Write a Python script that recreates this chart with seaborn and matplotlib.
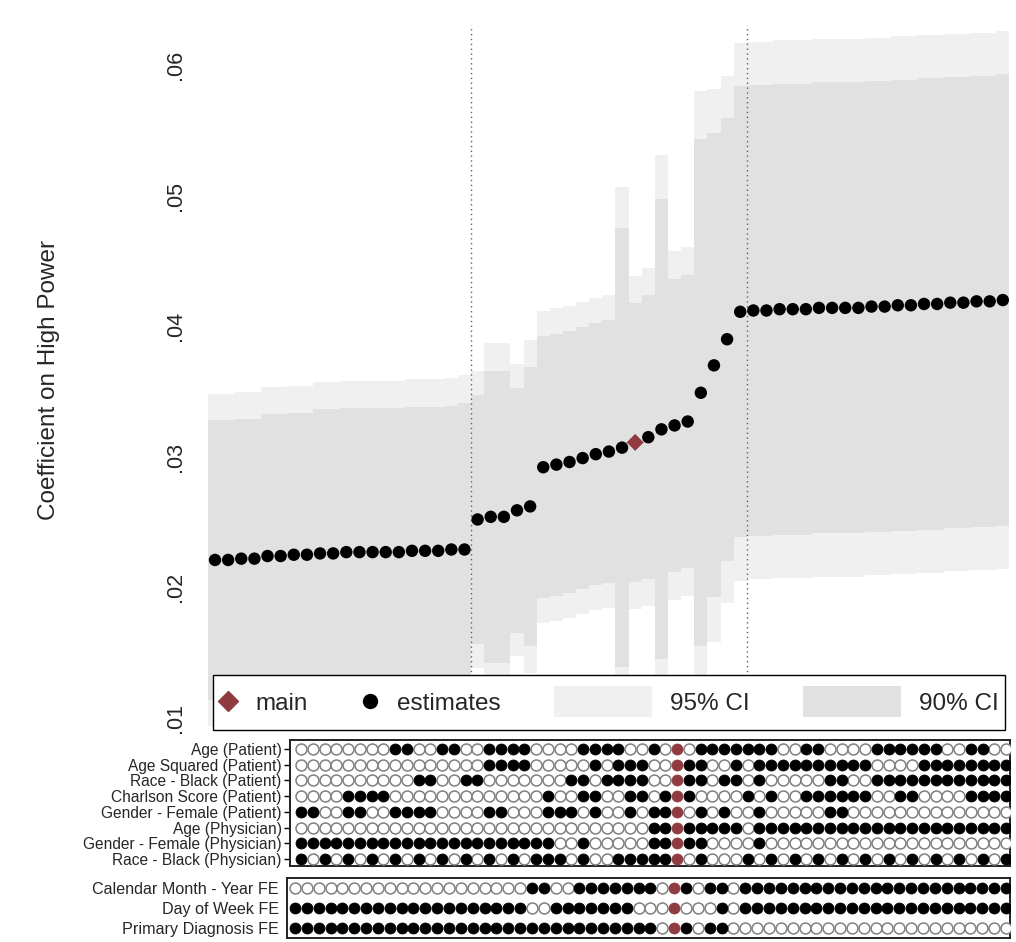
import numpy as np
import pandas as pd
import matplotlib
matplotlib.use("Agg")
import matplotlib.pyplot as plt
import seaborn as sns
from matplotlib.lines import Line2D
from matplotlib.patches import Patch, Rectangle
from matplotlib.legend_handler import HandlerPatch, HandlerLine2D

sns.set_theme(style="white")
plt.rcParams["font.family"] = ["Liberation Sans", "DejaVu Sans"]

# ---- specification curve data (sorted by point estimate) ----
estimates = [
    0.0221, 0.0221, 0.0222, 0.0222, 0.0224, 0.0224, 0.0225, 0.0225, 0.0226, 0.0226,
    0.0227, 0.0227, 0.0227, 0.0227, 0.0227, 0.0228, 0.0228, 0.0228, 0.0229, 0.0229,
    0.0252, 0.0254, 0.0254, 0.0259, 0.0262, 0.0292, 0.0294, 0.0296, 0.0299, 0.0302,
    0.0304, 0.0307, 0.0311, 0.0315, 0.0321, 0.0324, 0.0327, 0.0349, 0.0370, 0.0390,
    0.0411,
    0.0412, 0.0412, 0.0413, 0.0413, 0.0413, 0.0414, 0.0414, 0.0414, 0.0414, 0.0415,
    0.0415, 0.0416, 0.0416, 0.0417, 0.0417, 0.0418, 0.0418, 0.0419, 0.0419, 0.0420,
]
std_errors = [
    0.0065, 0.0065, 0.0065, 0.0065, 0.0066, 0.0066, 0.0066, 0.0066, 0.0067, 0.0067,
    0.0067, 0.0067, 0.0067, 0.0067, 0.0067, 0.0067, 0.0067, 0.0067, 0.0067, 0.0068,
    0.0058, 0.0068, 0.0068, 0.0057, 0.0065, 0.0061, 0.0061, 0.0061, 0.0061, 0.0061,
    0.0061, 0.0102, 0.0065, 0.0066, 0.0107, 0.0068, 0.0068, 0.0118, 0.0108, 0.0103,
    0.0105,
    0.0105, 0.0105, 0.0105, 0.0105, 0.0105, 0.0105, 0.0105, 0.0105, 0.0105, 0.0105,
    0.0105, 0.0105, 0.0105, 0.0105, 0.0105, 0.0105, 0.0105, 0.0105, 0.0105, 0.0105,
]
main_spec = 32
group_breaks = [19.5, 40.5]

y_ticks = [0.01, 0.02, 0.03, 0.04, 0.05, 0.06]
y_tick_labels = [".01", ".02", ".03", ".04", ".05", ".06"]

control_labels = [
    "Age (Patient)",
    "Age Squared (Patient)",
    "Race - Black (Patient)",
    "Charlson Score (Patient)",
    "Gender - Female (Patient)",
    "Age (Physician)",
    "Gender - Female (Physician)",
    "Race - Black (Physician)",
]
control_flags = [
    "0000000011 0011001111 0000111100 1010111111 1001100001 1111100110 0",
    "0000000000 0000001111 0000010111 0011100101 1111111110 0001111111 1",
    "0000000000 1100110000 0001101111 0011101101 0000011001 1111111111 1",
    "0000111100 0000000000 0100110011 0111000010 1001111110 0110000111 1",
    "1100110011 1100001100 0111010010 1110101001 0000011000 0000000000 0",
    "0000000000 0000000000 0000000000 1111111101 1111111111 1111111111 1",
    "1111111111 1111111111 1100100000 1111100001 0000000000 0000000000 0",
    "1010101010 1010101010 1110100111 1110100010 1010101010 1010101010 1",
]
fe_labels = [
    "Calendar Month - Year FE",
    "Day of Week FE",
    "Primary Diagnosis FE",
]
fe_flags = [
    "0000000000 0000000000 1100111111 1011011011 1111111111 1111111111 1",
    "1111111111 1111111111 0011111110 0010001011 1111111111 1111111111 1",
    "1111111111 1111111111 1111111111 1011011000 0000000000 0000000000 0",
]

# ---- colours ----
band95 = "#f0f0f0"
band90 = "#e1e1e1"
main_red = "#8f3b40"
hollow_edge = "#808080"


class WideSwatch(HandlerPatch):
    """Legend swatch wider than the marker handles, centred on the text."""

    def __init__(self, width_em, height_em, **kw):
        super().__init__(**kw)
        self.width_em = width_em
        self.height_em = height_em

    def legend_artist(self, legend, orig_handle, fontsize, handlebox):
        handlebox.width = self.width_em * fontsize
        return super().legend_artist(legend, orig_handle, fontsize, handlebox)

    def create_artists(self, legend, orig_handle, xdescent, ydescent,
                       width, height, fontsize, trans):
        h = self.height_em * fontsize
        y0 = 0.35 * fontsize - h / 2
        p = Rectangle((-xdescent, y0), width, h,
                      facecolor=orig_handle.get_facecolor(), edgecolor="none")
        p.set_transform(trans)
        return [p]


class CentredMarker(HandlerLine2D):
    """Single legend marker placed at the middle of the label's cap height."""

    def create_artists(self, legend, orig_handle, xdescent, ydescent,
                       width, height, fontsize, trans):
        artists = super().create_artists(legend, orig_handle, xdescent,
                                         ydescent, width, height, fontsize,
                                         trans)
        for a in artists:
            a.set_ydata(np.full(len(a.get_xdata()), 0.35 * fontsize))
        return artists


def flag_frame(labels, flags):
    rows = []
    for r, (lab, fl) in enumerate(zip(labels, flags)):
        bits = fl.replace(" ", "")
        for c, b in enumerate(bits):
            kind = "main" if c == main_spec else ("on" if b == "1" else "off")
            rows.append({"spec": c, "row": r, "kind": kind})
    return pd.DataFrame(rows)


W, H = 1016, 942
fig = plt.figure(figsize=(W / 100, H / 100), dpi=100)
fig.patch.set_facecolor("white")

ax = fig.add_axes([207 / W, 1 - 730 / H, 805 / W, 705 / H])
ax_c = fig.add_axes([290 / W, 1 - 866 / H, 720 / W, 126 / H])
ax_f = fig.add_axes([287 / W, 1 - 938 / H, 723 / W, 60 / H])

# ---- top panel: estimates with confidence bands ----
est = np.array(estimates)
se = np.array(std_errors)
spec = np.arange(len(est))
ax.bar(spec, 2 * 1.96 * se, bottom=est - 1.96 * se, width=1.0,
       color=band95, linewidth=0, zorder=1)
ax.bar(spec, 2 * 1.645 * se, bottom=est - 1.645 * se, width=1.0,
       color=band90, linewidth=0, zorder=2)
for xb in group_breaks:
    ax.axvline(xb, color="#606060", ls=(0, (1, 2.5)), lw=1.0, zorder=3)

est_df = pd.DataFrame({"spec": spec, "estimate": est})
sns.scatterplot(data=est_df[est_df.spec != main_spec], x="spec", y="estimate",
                color="black", s=80, edgecolor="none", ax=ax, zorder=4,
                legend=False)
sns.scatterplot(data=est_df[est_df.spec == main_spec], x="spec", y="estimate",
                color=main_red, marker="D", s=75, edgecolor="none", ax=ax,
                zorder=5, legend=False)

ax.set_xlim(-0.61, 60.70)
ax.set_ylim(0.00908, 0.06306)
ax.set_xticks([])
ax.set_yticks(y_ticks)
ax.set_yticklabels(y_tick_labels, rotation=90, va="center", fontsize=15.5)
ax.tick_params(axis="y", left=False, length=0, pad=15)
ax.set_xlabel("")
ax.set_ylabel("Coefficient on High Power", fontsize=17.5)
ax.yaxis.set_label_coords(-0.183, 0.497)
for s in ax.spines.values():
    s.set_visible(False)

handles = [
    Line2D([], [], ls="none", marker="D", color=main_red, markersize=10),
    Line2D([], [], ls="none", marker="o", color="black", markersize=10),
    Patch(facecolor=band95, edgecolor="none"),
    Patch(facecolor=band90, edgecolor="none"),
]
leg = ax.legend(
    handles, ["main", "estimates", "95% CI", "90% CI"],
    ncol=4, mode="expand", loc="lower left",
    bbox_to_anchor=(6 / 805, 0.0, 792 / 805, 0.08), borderaxespad=0,
    fontsize=17.5, handlelength=0.75, handleheight=2.35, handletextpad=0.74,
    borderpad=0.25, frameon=True, fancybox=False, framealpha=1,
    handler_map={Patch: WideSwatch(4.05, 1.25), Line2D: CentredMarker()},
)
leg.get_frame().set_edgecolor("black")
leg.get_frame().set_linewidth(1.0)
leg.set_zorder(10)


# ---- indicator panels ----
def draw_flags(axis, df):
    sns.scatterplot(data=df[df.kind == "off"], x="spec", y="row", s=62,
                    color="white", edgecolor=hollow_edge, linewidth=1.1,
                    ax=axis, legend=False, zorder=3)
    sns.scatterplot(data=df[df.kind == "on"], x="spec", y="row", s=62,
                    color="black", edgecolor="black", linewidth=0.6,
                    ax=axis, legend=False, zorder=3)
    sns.scatterplot(data=df[df.kind == "main"], x="spec", y="row", s=62,
                    color=main_red, edgecolor=main_red, linewidth=0.6,
                    ax=axis, legend=False, zorder=4)
    axis.set_xticks([])
    axis.set_xlabel("")
    axis.set_ylabel("")
    for s in axis.spines.values():
        s.set_visible(True)
        s.set_color("#222222")
        s.set_linewidth(1.4)


draw_flags(ax_c, flag_frame(control_labels, control_flags))
ax_c.set_xlim(-0.94, 60.34)
ax_c.set_ylim(7.45, -0.57)
ax_c.set_yticks(range(len(control_labels)))
ax_c.set_yticklabels(control_labels, fontsize=11.2)
ax_c.tick_params(axis="y", left=True, length=4, width=1, color="black", pad=2)

draw_flags(ax_f, flag_frame(fe_labels, fe_flags))
ax_f.set_xlim(-0.675, 60.34)
ax_f.set_ylim(2.5, -0.5)
ax_f.set_yticks(range(len(fe_labels)))
ax_f.set_yticklabels(fe_labels, fontsize=11.6)
ax_f.tick_params(axis="y", left=False, length=0, pad=6)

fig.savefig("out.png", dpi=100, facecolor="white")
